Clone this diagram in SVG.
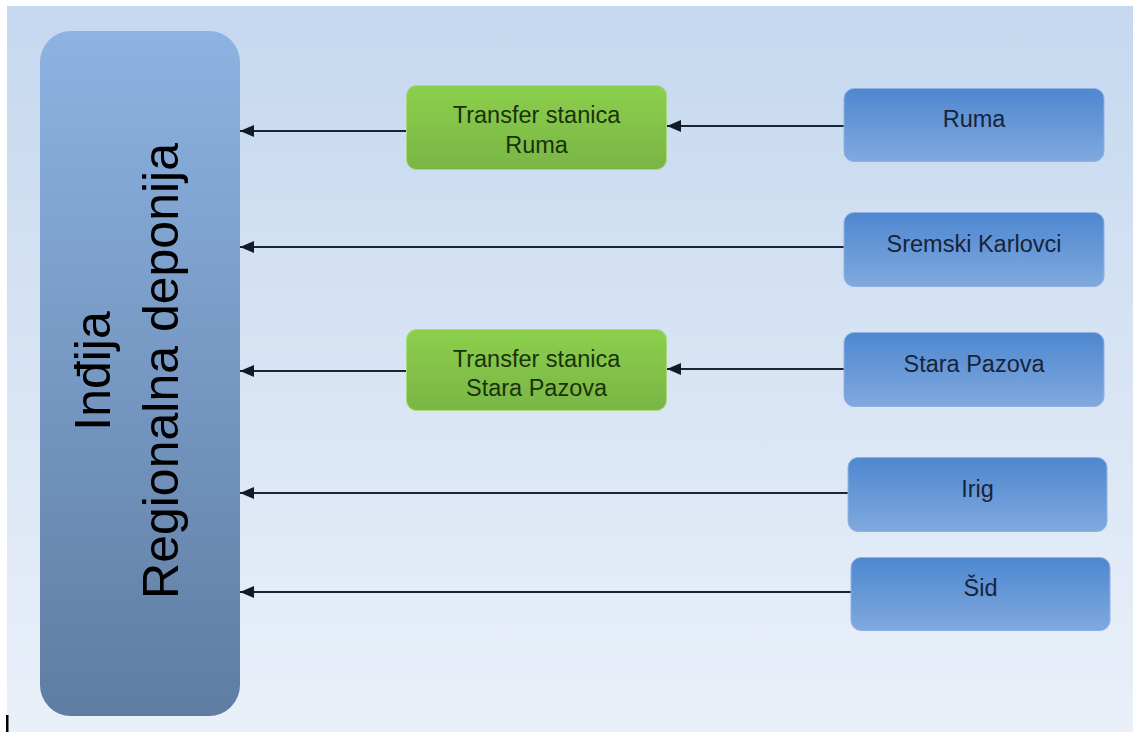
<svg xmlns="http://www.w3.org/2000/svg" width="1133" height="732" viewBox="0 0 1133 732">
  <defs>
    <linearGradient id="bgGrad" x1="0" y1="0" x2="0" y2="1">
      <stop offset="0" stop-color="#c5d8ef"/>
      <stop offset="1" stop-color="#eaf0f9"/>
    </linearGradient>
    <linearGradient id="mainGrad" x1="0" y1="0" x2="0" y2="1">
      <stop offset="0" stop-color="#8db3e2"/>
      <stop offset="1" stop-color="#5f7da3"/>
    </linearGradient>
    <linearGradient id="greenGrad" x1="0" y1="0" x2="0" y2="1">
      <stop offset="0" stop-color="#8ccf4c"/>
      <stop offset="1" stop-color="#7ab545"/>
    </linearGradient>
    <linearGradient id="blueGrad" x1="0" y1="0" x2="0" y2="1">
      <stop offset="0" stop-color="#4e87d0"/>
      <stop offset="1" stop-color="#80a9de"/>
    </linearGradient>
    <marker id="arrow" viewBox="0 0 14 12" refX="14" refY="6" markerWidth="14" markerHeight="12" markerUnits="userSpaceOnUse" orient="auto">
      <path d="M0,0 L14,6 L0,12 Z" fill="#111a26"/>
    </marker>
    <style>
      .green { fill: url(#greenGrad); stroke: #a8d97a; stroke-width: 1; }
      .blue { fill: url(#blueGrad); stroke: #8fb2e2; stroke-width: 1; }
      .gtext { font-family: "Liberation Sans", Arial, sans-serif; font-size: 23.5px; fill: #18330c; text-anchor: middle; }
      .btext { font-family: "Liberation Sans", Arial, sans-serif; font-size: 23.5px; fill: #16243c; text-anchor: middle; }
      .mtext { font-family: "Liberation Sans", Arial, sans-serif; font-size: 50px; fill: #000000; text-anchor: middle; }
      .conn { stroke: #1b2433; stroke-width: 1.8; fill: none; marker-end: url(#arrow); }
    </style>
  </defs>

  <rect x="0" y="0" width="1133" height="732" fill="#ffffff"/>
  <rect x="7" y="6" width="1126" height="726" fill="url(#bgGrad)"/>
  <rect x="6" y="715" width="2.5" height="17" fill="#000000"/>

  <g id="connectors">
    <line class="conn" x1="406" y1="131" x2="240" y2="131"/>
    <line class="conn" x1="844" y1="126" x2="667" y2="126"/>
    <line class="conn" x1="844" y1="247" x2="240" y2="247"/>
    <line class="conn" x1="406" y1="371" x2="240" y2="371"/>
    <line class="conn" x1="844" y1="369" x2="667" y2="369"/>
    <line class="conn" x1="848" y1="493" x2="240" y2="493"/>
    <line class="conn" x1="851" y1="592" x2="240" y2="592"/>
  </g>

  <g id="regionalna-deponija">
    <rect x="40" y="31" width="200" height="685" rx="31" ry="31" fill="url(#mainGrad)"/>
    <text class="mtext" transform="translate(110,371) rotate(-90)">Inđija</text>
    <text class="mtext" transform="translate(178,371) rotate(-90)">Regionalna deponija</text>
  </g>

  <g id="transfer-ruma">
    <rect class="green" x="406.5" y="85.5" width="260" height="84" rx="10" ry="10"/>
    <text class="gtext" x="536.5" y="123">Transfer stanica</text>
    <text class="gtext" x="536.5" y="152.5">Ruma</text>
  </g>

  <g id="transfer-stara-pazova">
    <rect class="green" x="406.5" y="329.5" width="260" height="81" rx="10" ry="10"/>
    <text class="gtext" x="536.5" y="367">Transfer stanica</text>
    <text class="gtext" x="536.5" y="396">Stara Pazova</text>
  </g>

  <g id="ruma">
    <rect class="blue" x="844" y="88.5" width="260" height="73" rx="10" ry="10"/>
    <text class="btext" x="974" y="126.5">Ruma</text>
  </g>

  <g id="sremski-karlovci">
    <rect class="blue" x="844" y="212.5" width="260" height="74" rx="10" ry="10"/>
    <text class="btext" x="974" y="251.5">Sremski Karlovci</text>
  </g>

  <g id="stara-pazova">
    <rect class="blue" x="844" y="332.5" width="260" height="74" rx="10" ry="10"/>
    <text class="btext" x="974" y="371.5">Stara Pazova</text>
  </g>

  <g id="irig">
    <rect class="blue" x="848" y="457.5" width="259" height="74" rx="10" ry="10"/>
    <text class="btext" x="977.5" y="496.5">Irig</text>
  </g>

  <g id="sid">
    <rect class="blue" x="851" y="557.5" width="259" height="73" rx="10" ry="10"/>
    <text class="btext" x="980.5" y="596">Šid</text>
  </g>
</svg>
